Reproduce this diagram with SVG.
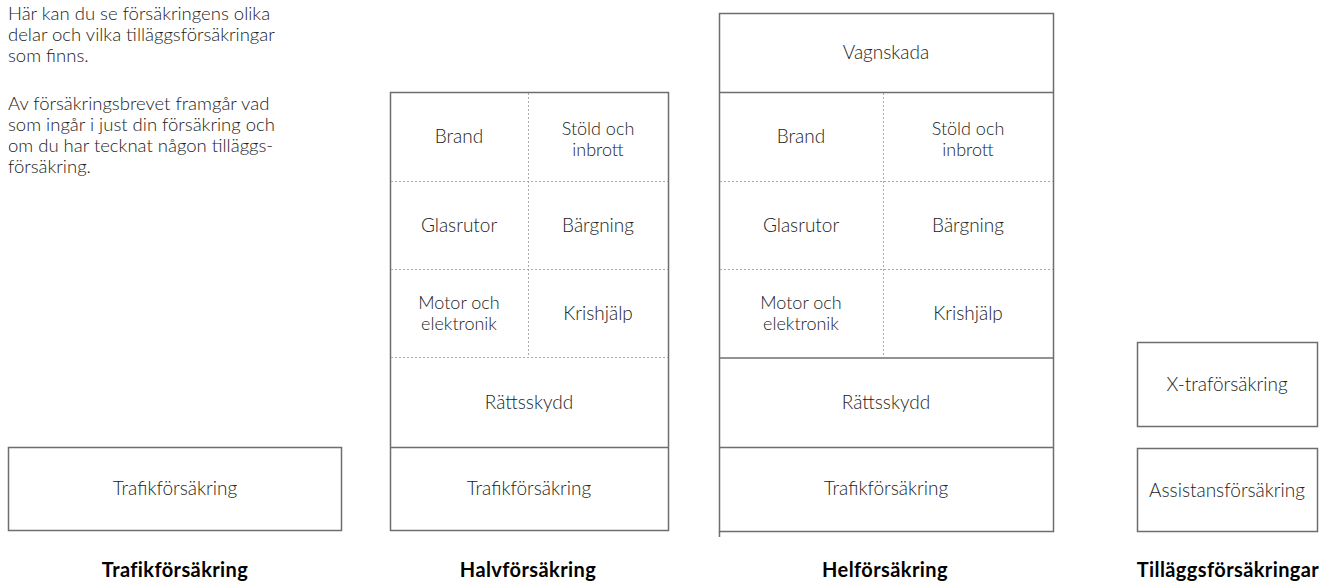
<svg xmlns="http://www.w3.org/2000/svg" width="1327" height="581" viewBox="0 0 1327 581">
<style>
.t{font-family:Lato,"Open Sans","Liberation Sans",sans-serif;font-weight:300;font-size:19px;fill:#222;text-anchor:middle}
.t2{font-family:Lato,"Open Sans","Liberation Sans",sans-serif;font-weight:300;font-size:18px;fill:#222;text-anchor:middle}
.p{font-family:Lato,"Open Sans","Liberation Sans",sans-serif;font-weight:300;font-size:18.5px;fill:#222}
.h{font-family:Lato,"Liberation Sans",sans-serif;font-weight:700;font-size:20px;letter-spacing:0.4px;fill:#000;text-anchor:middle}
.box{fill:#fff;stroke:#6e6e6e;stroke-width:1.5}
.sol{stroke:#6e6e6e;stroke-width:1.5;fill:none}
.dot{stroke:#aaa;stroke-width:1;stroke-dasharray:2 2;fill:none}
</style>
<rect width="1327" height="581" fill="#fff"/>
<g id="intro">
<text class="p" x="8" y="20">Här kan du se försäkringens olika</text>
<text class="p" x="8" y="41">delar och vilka tilläggsförsäkringar</text>
<text class="p" x="8" y="62">som finns.</text>
<text class="p" x="8" y="110">Av försäkringsbrevet framgår vad</text>
<text class="p" x="8" y="131">som ingår i just din försäkring och</text>
<text class="p" x="8" y="152">om du har tecknat någon tilläggs-</text>
<text class="p" x="8" y="173">försäkring.</text>
</g>
<g id="trafik">
<rect class="box" x="8.5" y="447.5" width="333" height="83"/>
<text class="t" x="175" y="495">Trafikförsäkring</text>
<text class="h" x="175" y="577">Trafikförsäkring</text>
</g>
<g id="halv">
<rect class="box" x="390.5" y="92.5" width="278" height="438"/>
<line class="dot" x1="391" y1="181.5" x2="668" y2="181.5"/>
<line class="dot" x1="391" y1="269.5" x2="668" y2="269.5"/>
<line class="dot" x1="391" y1="357.5" x2="668" y2="357.5"/>
<line class="dot" x1="528.5" y1="93" x2="528.5" y2="357"/>
<line class="sol" x1="391" y1="447.5" x2="668" y2="447.5"/>
<text class="t" x="459" y="143">Brand</text>
<text class="t2" x="598" y="135">Stöld och</text>
<text class="t2" x="598" y="156">inbrott</text>
<text class="t" x="459" y="232">Glasrutor</text>
<text class="t" x="598" y="232">Bärgning</text>
<text class="t2" x="459" y="309">Motor och</text>
<text class="t2" x="459" y="330">elektronik</text>
<text class="t" x="598" y="320">Krishjälp</text>
<text class="t" x="529" y="409">Rättsskydd</text>
<text class="t" x="529" y="495">Trafikförsäkring</text>
<text class="h" x="528" y="577">Halvförsäkring</text>
</g>
<g id="hel">
<rect class="box" x="719.5" y="13.5" width="334" height="518"/>
<line class="sol" x1="719.5" y1="531" x2="719.5" y2="537"/>
<line class="sol" x1="720" y1="92.5" x2="1053" y2="92.5"/>
<line class="dot" x1="720" y1="181.5" x2="1053" y2="181.5"/>
<line class="dot" x1="720" y1="269.5" x2="1053" y2="269.5"/>
<line class="sol" x1="720" y1="358" x2="1053" y2="358" stroke="#888"/>
<line class="dot" x1="883.5" y1="93" x2="883.5" y2="357"/>
<line class="sol" x1="720" y1="447.5" x2="1053" y2="447.5"/>
<text class="t" x="886" y="59">Vagnskada</text>
<text class="t" x="801" y="143">Brand</text>
<text class="t2" x="968" y="135">Stöld och</text>
<text class="t2" x="968" y="156">inbrott</text>
<text class="t" x="801" y="232">Glasrutor</text>
<text class="t" x="968" y="232">Bärgning</text>
<text class="t2" x="801" y="309">Motor och</text>
<text class="t2" x="801" y="330">elektronik</text>
<text class="t" x="968" y="320">Krishjälp</text>
<text class="t" x="886" y="409">Rättsskydd</text>
<text class="t" x="886" y="495">Trafikförsäkring</text>
<text class="h" x="885" y="577">Helförsäkring</text>
</g>
<g id="tillagg">
<rect class="box" x="1137.5" y="342.5" width="180" height="84"/>
<text class="t" x="1227" y="391">X-traförsäkring</text>
<rect class="box" x="1137.5" y="448.5" width="180" height="83"/>
<text class="t" x="1227" y="497">Assistansförsäkring</text>
<text class="h" x="1228" y="577">Tilläggsförsäkringar</text>
</g>
<g id="connectors"></g>
</svg>
